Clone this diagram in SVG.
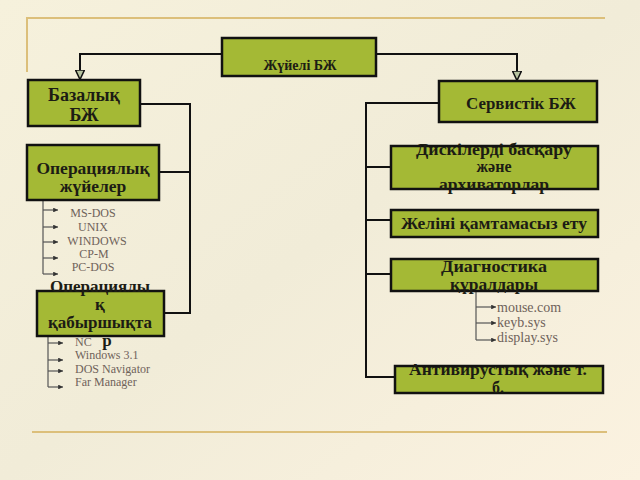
<svg xmlns="http://www.w3.org/2000/svg" width="640" height="480" viewBox="0 0 640 480">
<defs>
<linearGradient id="bg" x1="0" y1="0" x2="1" y2="1">
<stop offset="0" stop-color="#f6f1dc"/>
<stop offset="0.5" stop-color="#f1ecd8"/>
<stop offset="1" stop-color="#fbf2e0"/>
</linearGradient>
<marker id="tri" viewBox="0 0 10 10" refX="10" refY="5" markerWidth="10" markerHeight="10" markerUnits="userSpaceOnUse" orient="auto">
<path d="M0,0.5 L9.5,5 L0,9.5 Z" fill="#b8c4a0" stroke="#111" stroke-width="1.5"/>
</marker>
<marker id="sm" viewBox="0 0 6 6" refX="6" refY="3" markerWidth="4" markerHeight="4" orient="auto">
<path d="M0,0 L6,3 L0,6 Z" fill="#333"/>
</marker>
</defs>
<style>
.box{fill:#a4b935;stroke:#111;stroke-width:2.5}
.bt{font-family:"Liberation Serif",serif;font-weight:bold;fill:#1c1c14;text-anchor:middle}
.r{font-size:16px}
.con{fill:none;stroke:#111;stroke-width:2}
.sub{fill:none;stroke:#555;stroke-width:1.2}
.st{font-family:"Liberation Serif",serif;fill:#6f625a;font-size:12px}
.gold{stroke:#dcbf7a;stroke-width:2;fill:none}
</style>
<rect width="640" height="480" fill="url(#bg)"/>
<path class="gold" d="M27,72 V18 H605"/>
<path class="gold" d="M32,432 H607"/>

<g id="connectors">
<path class="con" d="M222,54 H80 V80" marker-end="url(#tri)"/>
<path class="con" d="M376,54 H517 V81" marker-end="url(#tri)"/>
<path class="con" d="M140,104 H190 V313 H165"/>
<path class="con" d="M159,172 H190"/>
<path class="con" d="M439,103 H366 V377 H395"/>
<path class="con" d="M366,167 H391"/>
<path class="con" d="M366,220 H391"/>
<path class="con" d="M366,274 H391"/>
<path class="sub" d="M43,200 V274"/>
<path class="sub" d="M43,210 H58" marker-end="url(#sm)"/>
<path class="sub" d="M43,227 H58" marker-end="url(#sm)"/>
<path class="sub" d="M43,242 H58" marker-end="url(#sm)"/>
<path class="sub" d="M43,258 H58" marker-end="url(#sm)"/>
<path class="sub" d="M43,274 H58" marker-end="url(#sm)"/>
<path class="sub" d="M48,336 V387"/>
<path class="sub" d="M48,343 H63" marker-end="url(#sm)"/>
<path class="sub" d="M48,360 H63" marker-end="url(#sm)"/>
<path class="sub" d="M48,371 H63" marker-end="url(#sm)"/>
<path class="sub" d="M48,387 H63" marker-end="url(#sm)"/>
<path class="sub" d="M476,291 V340"/>
<path class="sub" d="M476,307 H496" marker-end="url(#sm)"/>
<path class="sub" d="M476,323 H496" marker-end="url(#sm)"/>
<path class="sub" d="M476,340 H496" marker-end="url(#sm)"/>
</g>

<g id="n-root">
<rect class="box" x="222" y="38" width="154" height="38"/>
<text class="bt" x="300" y="70" font-size="14">Жүйелі БЖ</text>
</g>
<g id="n-base">
<rect class="box" x="28" y="80" width="112" height="46"/>
<text class="bt" x="84" y="101" font-size="18">Базалық</text>
<text class="bt" x="84" y="121" font-size="18">БЖ</text>
</g>
<g id="n-os">
<rect class="box" x="27" y="145" width="132" height="55"/>
<text class="bt" x="93" y="174" font-size="17.5">Операциялық</text>
<text class="bt" x="93" y="192" font-size="17.5">жүйелер</text>
</g>
<g id="os-list">
<text class="st" x="93" y="217" text-anchor="middle">MS-DOS</text>
<text class="st" x="93" y="231" text-anchor="middle">UNIX</text>
<text class="st" x="97" y="245" text-anchor="middle">WINDOWS</text>
<text class="st" x="94" y="258" text-anchor="middle">CP-M</text>
<text class="st" x="93" y="271" text-anchor="middle">PC-DOS</text>
</g>
<g id="n-shell">
<rect class="box" x="37" y="291" width="127" height="45"/>
<text class="bt" x="100" y="292" font-size="17">Операциялы</text>
<text class="bt" x="100" y="310" font-size="17">қ</text>
<text class="bt" x="100" y="328" font-size="17">қабыршықта</text>
<text class="bt" x="107" y="346" font-size="17">р</text>
</g>
<g id="shell-list">
<text class="st" x="75" y="346">NC</text>
<text class="st" x="75" y="359">Windows 3.1</text>
<text class="st" x="75" y="373">DOS Navigator</text>
<text class="st" x="75" y="386">Far Manager</text>
</g>
<g id="n-service">
<rect class="box" x="439" y="81" width="158" height="41"/>
<text class="bt r" x="521" y="109" textLength="110" lengthAdjust="spacingAndGlyphs">Сервистік БЖ</text>
</g>
<g id="n-disk">
<rect class="box" x="391" y="146" width="207" height="43"/>
<text class="bt r" x="494" y="155" textLength="156" lengthAdjust="spacingAndGlyphs">Дискілерді басқару</text>
<text class="bt r" x="494" y="172">және</text>
<text class="bt r" x="494" y="190" textLength="110" lengthAdjust="spacingAndGlyphs">архиваторлар</text>
</g>
<g id="n-net">
<rect class="box" x="391" y="210" width="207" height="27"/>
<text class="bt r" x="494" y="229" textLength="186" lengthAdjust="spacingAndGlyphs">Желіні қамтамасыз ету</text>
</g>
<g id="n-diag">
<rect class="box" x="391" y="259" width="207" height="32"/>
<text class="bt r" x="494" y="272" textLength="106" lengthAdjust="spacingAndGlyphs">Диагностика</text>
<text class="bt r" x="494" y="290" textLength="88" lengthAdjust="spacingAndGlyphs">құралдары</text>
</g>
<g id="diag-list">
<text class="st" x="497" y="312" style="font-size:14px">mouse.com</text>
<text class="st" x="497" y="327" style="font-size:14px">keyb.sys</text>
<text class="st" x="497" y="342" style="font-size:14px">display.sys</text>
</g>
<g id="n-av">
<rect class="box" x="395" y="366" width="208" height="27"/>
<text class="bt r" x="498" y="375" textLength="178" lengthAdjust="spacingAndGlyphs">Антивирустық және т.</text>
<text class="bt r" x="498" y="393">б.</text>
</g>
</svg>
